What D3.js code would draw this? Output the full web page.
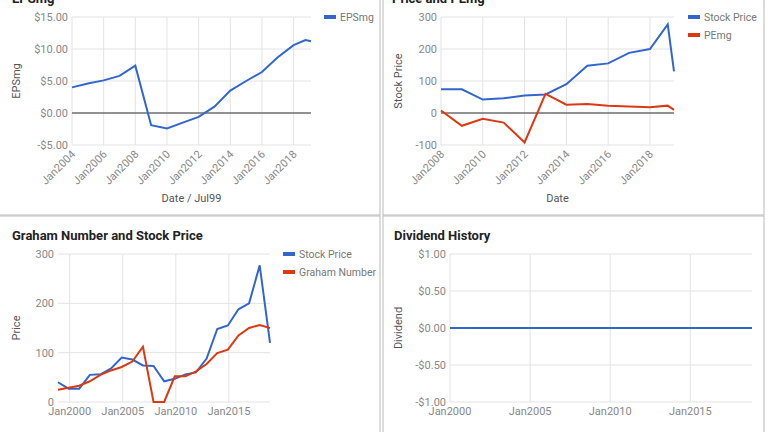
<!DOCTYPE html>
<html><head><meta charset="utf-8">
<script src="https://cdn.jsdelivr.net/npm/d3@7"></script>
<style>body{margin:0;background:#fff}text{font-family:Roboto,Arial,sans-serif}</style>
</head><body><svg id="c" width="768" height="432"></svg>
<script>
// Data (dates as fractional years)
const epsDates=[2004,2005,2006,2007,2008,2009,2010,2011,2012,2013,2014,2015,2016,2017,2018,2018.75,2019.1];
const epsVals=[4.0,4.6,5.1,5.8,7.4,-1.9,-2.4,-1.5,-0.6,1.0,3.5,5.0,6.4,8.7,10.6,11.4,11.2];
const peDates=[2008,2009,2010,2011,2012,2013,2014,2015,2016,2017,2018,2018.85,2019.15];
const peStock=[74,74,42,46,55,58,90,148,155,188,200,277,130];
const pePE=[8,-40,-18,-30,-92,60,26,28,23,20,18,23,10];
const grDates=[1998.9,1999.9,2000.9,2001.9,2002.9,2003.9,2004.9,2005.9,2006.9,2007.9,2008.9,2009.9,2010.9,2011.9,2012.9,2013.9,2014.9,2015.9,2016.9,2017.9,2018.87];
const grStock=[40,27,27,55,56,68,90,86,74,73,42,47,56,60,88,148,155,188,200,277,120];
const grGraham=[25,29,33,42,55,64,71,82,112,0,0,52,52,62,77,99,106,135,150,156,150];
const divDates=[2000,2018.85];
const divVals=[0,0];
const blue="#3366cc",red="#dc3912";
const svg=d3.select("#c");
svg.append("rect").attr("x",-2).attr("y",-2).attr("width",382).attr("height",217).attr("fill","none").attr("stroke","#bbb");
svg.append("rect").attr("x",383).attr("y",-2).attr("width",381).attr("height",217).attr("fill","none").attr("stroke","#bbb");
svg.append("rect").attr("x",-2).attr("y",216).attr("width",382).attr("height",220).attr("fill","none").attr("stroke","#bbb");
svg.append("rect").attr("x",383).attr("y",216).attr("width",381).attr("height",220).attr("fill","none").attr("stroke","#bbb");
function panel(o){
  const g=svg.append("g");
  g.append("text").attr("x",o.tx).attr("y",o.ty).attr("font-size",13).attr("font-weight","bold").attr("fill","#222").text(o.title);
  const x=d3.scaleLinear().domain(o.xd).range([o.x0,o.x1]);
  const y=d3.scaleLinear().domain(o.yd).range([o.y1,o.y0]);
  o.yt.forEach(t=>{
    g.append("line").attr("x1",o.x0).attr("x2",o.x1).attr("y1",y(t)).attr("y2",y(t)).attr("stroke","#e3e3e3");
    g.append("text").attr("x",o.x0-4).attr("y",y(t)+4).attr("text-anchor","end").attr("font-size",11).attr("fill","#888").text(o.yf(t));
  });
  o.xt.forEach(t=>{
    g.append("line").attr("x1",x(t)).attr("x2",x(t)).attr("y1",o.y0).attr("y2",o.y1).attr("stroke","#e3e3e3");
    if(o.rot){
      g.append("text").attr("transform",`translate(${x(t)+4},${o.y1+10}) rotate(-45)`).attr("text-anchor","end").attr("font-size",11).attr("fill","#888").text("Jan"+t);
    } else {
      g.append("text").attr("x",x(t)).attr("y",o.y1+13).attr("text-anchor","middle").attr("font-size",11).attr("fill","#888").text("Jan"+t);
    }
  });
  if(o.zero){g.append("line").attr("x1",o.x0).attr("x2",o.x1).attr("y1",y(0)).attr("y2",y(0)).attr("stroke","#333");}
  g.append("text").attr("transform",`translate(${o.yl},${(o.y0+o.y1)/2}) rotate(-90)`).attr("text-anchor","middle").attr("font-size",11).attr("fill","#555").text(o.ylabel);
  if(o.xlabel) g.append("text").attr("x",(o.x0+o.x1)/2).attr("y",o.xly).attr("text-anchor","middle").attr("font-size",11).attr("fill","#555").text(o.xlabel);
  const line=d3.line().x(d=>x(d[0])).y(d=>y(d[1]));
  o.series.forEach((s,i)=>{
    g.append("path").datum(o.dates.map((d,j)=>[d,s.v[j]])).attr("d",line).attr("fill","none").attr("stroke",s.c).attr("stroke-width",2);
    if(o.lx){
      g.append("rect").attr("x",o.lx).attr("y",o.ly+i*18-2).attr("width",12).attr("height",4).attr("fill",s.c);
      g.append("text").attr("x",o.lx+16).attr("y",o.ly+i*18+4).attr("font-size",10.5).attr("fill","#777").text(s.n);
    }
  });
}
panel({title:"EPSmg",tx:12,ty:3,x0:72,x1:311,y0:17,y1:145,xd:[2004,2019.1],yd:[-5,15],yt:[-5,0,5,10,15],yf:v=>(v<0?"-$":"$")+Math.abs(v).toFixed(2),xt:[2004,2006,2008,2010,2012,2014,2016,2018],rot:true,zero:true,ylabel:"EPSmg",yl:20,xlabel:"Date / Jul99",xly:202,dates:epsDates,series:[{v:epsVals,c:blue,n:"EPSmg"}],lx:324,ly:17});
panel({title:"Price and PEmg",tx:392,ty:3,x0:441,x1:674,y0:17,y1:145,xd:[2008,2019.15],yd:[-100,300],yt:[-100,0,100,200,300],yf:v=>v,xt:[2008,2010,2012,2014,2016,2018],rot:true,zero:true,ylabel:"Stock Price",yl:402,xlabel:"Date",xly:202,dates:peDates,series:[{v:peStock,c:blue,n:"Stock Price"},{v:pePE,c:red,n:"PEmg"}],lx:688,ly:17});
panel({title:"Graham Number and Stock Price",tx:12,ty:240,x0:58,x1:270,y0:254,y1:402,xd:[1998.9,2018.87],yd:[0,300],yt:[0,100,200,300],yf:v=>v,xt:[2000,2005,2010,2015],rot:false,zero:false,ylabel:"Price",yl:20,dates:grDates,series:[{v:grStock,c:blue,n:"Stock Price"},{v:grGraham,c:red,n:"Graham Number"}],lx:283,ly:254});
panel({title:"Dividend History",tx:394,ty:240,x0:450,x1:752,y0:254,y1:402,xd:[2000,2018.85],yd:[-1,1],yt:[-1,-0.5,0,0.5,1],yf:v=>(v<0?"-$":"$")+Math.abs(v).toFixed(2),xt:[2000,2005,2010,2015],rot:false,zero:false,ylabel:"Dividend",yl:402,dates:divDates,series:[{v:divVals,c:blue,n:"Dividend"}]});
</script></body></html>
